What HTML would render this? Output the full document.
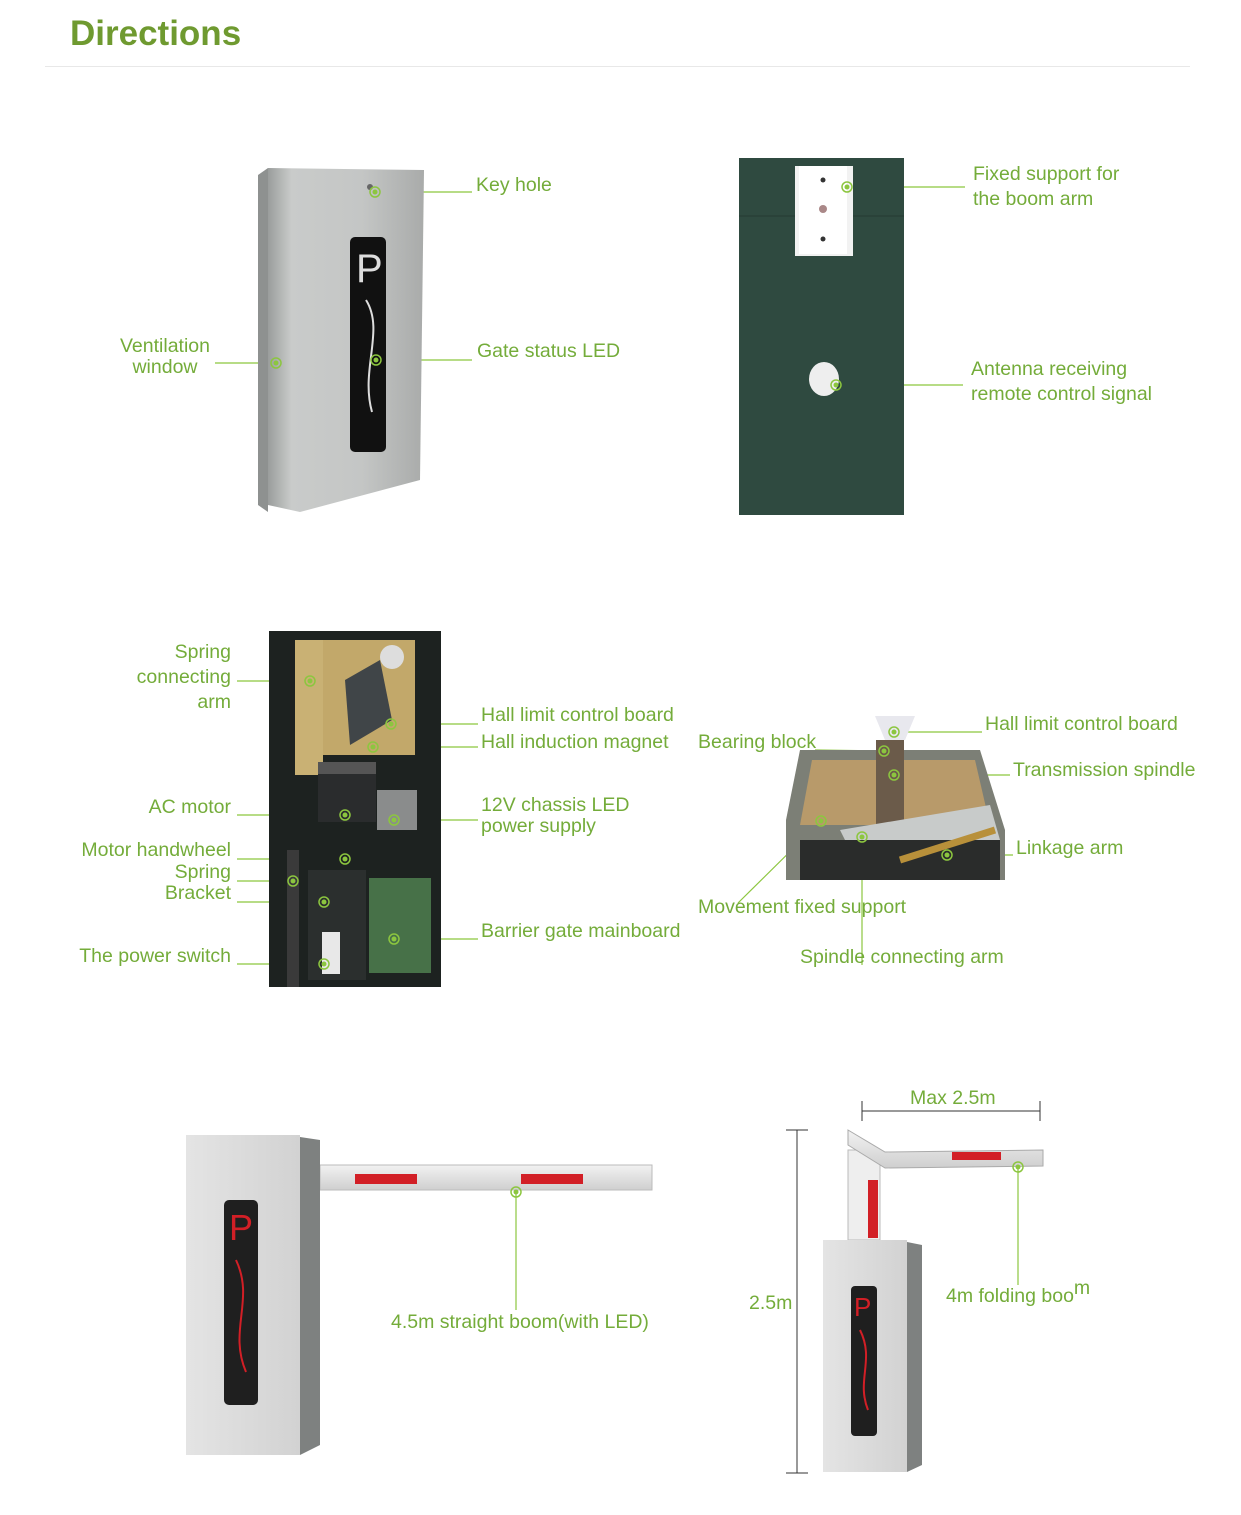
<!DOCTYPE html>
<html><head><meta charset="utf-8"><style>
html,body{margin:0;padding:0;background:#fff}
svg{display:block}
text{font-family:"Liberation Sans",sans-serif;fill:#74ac3a;font-size:19.5px}
</style></head><body>
<svg width="1241" height="1515" viewBox="0 0 1241 1515" xmlns="http://www.w3.org/2000/svg">
<defs>
<linearGradient id="g1" x1="0" x2="1"><stop offset="0" stop-color="#9a9d9c"/><stop offset="0.15" stop-color="#c9cbca"/><stop offset="0.6" stop-color="#c4c6c5"/><stop offset="1" stop-color="#a9abaa"/></linearGradient>
<linearGradient id="g2" x1="0" x2="1"><stop offset="0" stop-color="#e4e4e4"/><stop offset="1" stop-color="#d2d2d2"/></linearGradient>
<linearGradient id="bm" x1="0" y1="0" x2="0" y2="1"><stop offset="0" stop-color="#f2f2f2"/><stop offset="1" stop-color="#cfcfcf"/></linearGradient>
<g id="dot"><circle r="5" fill="none" stroke="#8cc63f" stroke-width="1.5"/><circle r="2.5" fill="#8cc63f"/></g>
</defs>
<text x="70" y="45" style="font-size:35px;font-weight:bold;fill:#6f9a30">Directions</text>
<line x1="45" y1="66.5" x2="1190" y2="66.5" stroke="#e8e8e8"/>

<g stroke="#8cc63f" stroke-width="1.2" fill="none">
<line x1="375" y1="192" x2="472" y2="192"/><line x1="376" y1="360" x2="472" y2="360"/><line x1="215" y1="363" x2="276" y2="363"/>
<line x1="847" y1="187" x2="965" y2="187"/><line x1="836" y1="385" x2="963" y2="385"/>
<line x1="237" y1="681" x2="310" y2="681"/><line x1="237" y1="815" x2="345" y2="815"/><line x1="237" y1="859" x2="345" y2="859"/><line x1="237" y1="881" x2="293" y2="881"/><line x1="237" y1="902" x2="324" y2="902"/><line x1="237" y1="964" x2="324" y2="964"/>
<line x1="391" y1="724" x2="478" y2="724"/><line x1="373" y1="747" x2="478" y2="747"/><line x1="394" y1="820" x2="478" y2="820"/><line x1="394" y1="939" x2="478" y2="939"/>
<line x1="894" y1="732" x2="982" y2="732"/><line x1="815" y1="750" x2="884" y2="751"/><line x1="894" y1="775" x2="1010" y2="775"/><line x1="947" y1="855" x2="1013" y2="855"/><line x1="821" y1="821" x2="738" y2="903"/><line x1="862" y1="837" x2="862" y2="965"/>
<line x1="516" y1="1192" x2="516" y2="1310"/><line x1="1018" y1="1167" x2="1018" y2="1285"/>
</g>

<!-- cabinet 1 -->
<polygon points="258,175 268,168 268,512 258,505" fill="#8e9190"/>
<polygon points="268,168 424,170 420,480 300,512 268,505" fill="url(#g1)"/>
<rect x="350" y="237" width="36" height="215" rx="5" fill="#111"/>
<text x="356" y="282" style="font-size:40px;fill:#ddd">P</text>
<path d="M366,300 C385,330 360,370 372,412" stroke="#ddd" stroke-width="2" fill="none"/>
<circle cx="370" cy="187" r="3" fill="#666"/>

<!-- dark panel -->
<rect x="739" y="158" width="165" height="357" fill="#2f4a40"/>
<line x1="739" y1="216" x2="904" y2="216" stroke="#243a32"/>
<rect x="795" y="166" width="58" height="90" fill="#f2f2f2"/>
<rect x="799" y="166" width="48" height="88" fill="#fff"/>
<circle cx="823" cy="180" r="2.5" fill="#333"/><circle cx="823" cy="209" r="4" fill="#a88"/><circle cx="823" cy="239" r="2.5" fill="#333"/>
<ellipse cx="824" cy="379" rx="15" ry="17" fill="#eee"/>

<!-- photo 3 -->
<rect x="269" y="631" width="172" height="356" fill="#1d2220"/>
<rect x="320" y="640" width="95" height="115" fill="#c2a86a"/>
<rect x="295" y="640" width="28" height="135" fill="#c9b174"/>
<path d="M345,680 L380,660 L392,720 L350,745 Z" fill="#404548"/>
<circle cx="392" cy="657" r="12" fill="#ddd"/>
<rect x="318" y="762" width="58" height="60" fill="#2a2c2d"/><rect x="318" y="762" width="58" height="12" fill="#555"/>
<rect x="377" y="790" width="40" height="40" fill="#8a8c8c"/>
<rect x="308" y="870" width="58" height="110" fill="#2b2f2e"/>
<rect x="369" y="878" width="62" height="95" fill="#4c7a4c" opacity="0.9"/>
<rect x="322" y="932" width="18" height="42" fill="#e8e8e8"/>
<rect x="287" y="850" width="12" height="137" fill="#3a3a3a"/>

<!-- photo 4 -->
<polygon points="875,716 915,716 905,740 885,740" fill="#e8e8ee"/>
<polygon points="800,750 980,750 1005,830 1005,880 786,880 786,820" fill="#7c7f76"/>
<polygon points="812,760 975,760 990,825 800,825" fill="#b89a6a"/>
<rect x="876" y="740" width="28" height="90" fill="#6b5b4a"/>
<polygon points="840,830 990,805 1000,840 850,850" fill="#c8cbca"/>
<rect x="800" y="840" width="200" height="40" fill="#2a2c2b"/>
<line x1="900" y1="860" x2="995" y2="830" stroke="#b8903a" stroke-width="7"/>

<!-- bottom left -->
<rect x="320" y="1165" width="332" height="25" fill="url(#bm)" stroke="#bbb"/>
<rect x="355" y="1174" width="62" height="10" fill="#d21f26"/><rect x="521" y="1174" width="62" height="10" fill="#d21f26"/>
<polygon points="300,1137 320,1140 320,1445 300,1455" fill="#7e8180"/>
<rect x="186" y="1135" width="114" height="320" fill="url(#g2)"/>
<rect x="224" y="1200" width="34" height="205" rx="5" fill="#1f1f1f"/>
<text x="229" y="1240" style="font-size:36px;fill:#d21f26">P</text>
<path d="M236,1260 C255,1300 228,1330 246,1372" stroke="#d21f26" stroke-width="2" fill="none"/>

<!-- bottom right -->
<g stroke="#333" stroke-width="1"><line x1="797" y1="1130" x2="797" y2="1473"/><line x1="786" y1="1130" x2="808" y2="1130"/><line x1="786" y1="1473" x2="808" y2="1473"/>
<line x1="862" y1="1111" x2="1040" y2="1111"/><line x1="862" y1="1101" x2="862" y2="1121"/><line x1="1040" y1="1101" x2="1040" y2="1121"/></g>
<rect x="848" y="1150" width="32" height="90" fill="#eee" stroke="#bbb"/>
<rect x="868" y="1180" width="10" height="58" fill="#d21f26"/>
<polygon points="848,1130 885,1152 1043,1150 1043,1166 885,1168 848,1145" fill="url(#bm)" stroke="#aaa"/>
<rect x="952" y="1152" width="49" height="8" fill="#d21f26"/>
<polygon points="907,1242 922,1245 922,1465 907,1472" fill="#7e8180"/>
<rect x="823" y="1240" width="84" height="232" fill="url(#g2)"/>
<rect x="851" y="1286" width="26" height="150" rx="4" fill="#1f1f1f"/>
<text x="854" y="1316" style="font-size:26px;fill:#d21f26">P</text>
<path d="M860,1330 C875,1360 856,1380 868,1410" stroke="#d21f26" stroke-width="2" fill="none"/>

<!-- dots -->
<use href="#dot" x="375" y="192"/><use href="#dot" x="376" y="360"/><use href="#dot" x="276" y="363"/>
<use href="#dot" x="847" y="187"/><use href="#dot" x="836" y="385"/>
<use href="#dot" x="310" y="681"/><use href="#dot" x="391" y="724"/><use href="#dot" x="373" y="747"/><use href="#dot" x="345" y="815"/><use href="#dot" x="394" y="820"/><use href="#dot" x="345" y="859"/><use href="#dot" x="293" y="881"/><use href="#dot" x="324" y="902"/><use href="#dot" x="394" y="939"/><use href="#dot" x="324" y="964"/>
<use href="#dot" x="894" y="732"/><use href="#dot" x="884" y="751"/><use href="#dot" x="894" y="775"/><use href="#dot" x="821" y="821"/><use href="#dot" x="862" y="837"/><use href="#dot" x="947" y="855"/>
<use href="#dot" x="516" y="1192"/><use href="#dot" x="1018" y="1167"/>

<!-- labels -->
<text x="476" y="191">Key hole</text>
<text x="477" y="357">Gate status LED</text>
<text x="165" y="352" text-anchor="middle">Ventilation</text><text x="165" y="373" text-anchor="middle">window</text>
<text x="973" y="180">Fixed support for</text><text x="973" y="205">the boom arm</text>
<text x="971" y="375">Antenna receiving</text><text x="971" y="400">remote control signal</text>
<g text-anchor="end">
<text x="231" y="658">Spring</text><text x="231" y="683">connecting</text><text x="231" y="708">arm</text>
<text x="231" y="813">AC motor</text><text x="231" y="856">Motor handwheel</text><text x="231" y="878">Spring</text><text x="231" y="899">Bracket</text><text x="231" y="962">The power switch</text>
</g>
<text x="481" y="721">Hall limit control board</text><text x="481" y="748">Hall induction magnet</text>
<text x="481" y="811">12V chassis LED</text><text x="481" y="832">power supply</text>
<text x="481" y="937">Barrier gate mainboard</text>
<text x="985" y="730">Hall limit control board</text>
<text x="698" y="748">Bearing block</text>
<text x="1013" y="776">Transmission spindle</text>
<text x="1016" y="854">Linkage arm</text>
<text x="698" y="913">Movement fixed support</text>
<text x="800" y="963">Spindle connecting arm</text>
<text x="391" y="1328">4.5m straight boom(with LED)</text>
<text x="910" y="1104">Max 2.5m</text>
<text x="749" y="1309">2.5m</text>
<text x="946" y="1302">4m folding boo<tspan dy="-8">m</tspan></text>
</svg>
</body></html>
